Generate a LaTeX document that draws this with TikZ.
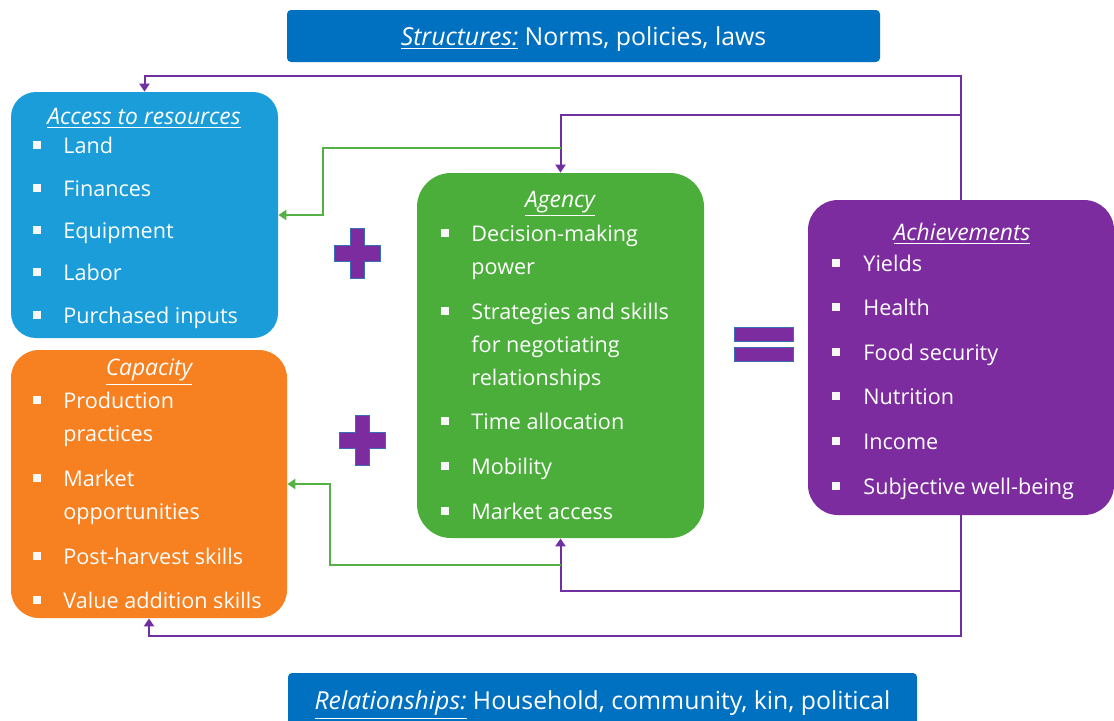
\documentclass[tikz,border=0pt]{standalone}
\usepackage{fontspec}
\setmainfont{Open Sans}
\usetikzlibrary{arrows.meta}
\definecolor{bannerblue}{HTML}{0070C0}
\definecolor{accessblue}{HTML}{1B9DD9}
\definecolor{capaorange}{HTML}{F78021}
\definecolor{agencygreen}{HTML}{4BAE3B}
\definecolor{achievepurple}{HTML}{7D2CA0}
\definecolor{linepurple}{HTML}{7030A0}
\definecolor{linegreen}{HTML}{55B046}
\definecolor{signedge}{HTML}{3A6FB5}
\tikzset{
  box/.style={rectangle, inner sep=0pt},
  banner/.style={box, fill=bannerblue, rounded corners=2pt, text=white, text depth=0pt, font=\fontsize{12.4}{14}\selectfont},
  head/.style={text=white, font=\fontsize{11.4}{13}\selectfont\itshape, inner sep=0pt, yshift=-1.5pt},
  item/.style={anchor=mid west, text=white, font=\fontsize{10.8}{13}\selectfont, inner sep=0pt, yshift=-1.5pt},
  dot/.style={fill=white!94!gray, minimum size=3.8pt, inner sep=0pt},
  plink/.style={linepurple, line width=1pt},
  glink/.style={linegreen, line width=1pt},
  tip/.style={-{Triangle[length=4pt,width=5pt]}},
  sign/.style={fill=achievepurple, draw=signedge, line width=.5pt},
}

\begin{document}
\begin{tikzpicture}[x=0.5pt,y=-0.5pt]
\useasboundingbox[fill=white] (0,0) rectangle (1114,720);

\node[banner, minimum width=296.5pt, minimum height=26pt] (structures) at (583.5,36) {\underline{\itshape Structures:} Norms, policies, laws};
\node[banner, minimum width=314.5pt, minimum height=27pt] (relations) at (602.5,700) {\underline{\itshape Relationships:} Household, community, kin, political};

\node[box, fill=accessblue, rounded corners=12.5pt, minimum width=133.5pt, minimum height=123pt] (access) at (144.5,215) {};
\node[box, fill=capaorange, rounded corners=14pt, minimum width=138pt, minimum height=134pt] (capacity) at (149,484) {};
\node[box, fill=agencygreen, rounded corners=17pt, minimum width=143.5pt, minimum height=182.5pt] (agency) at (560.5,355.5) {};
\node[box, fill=achievepurple, rounded corners=15pt, minimum width=153pt, minimum height=157.5pt] (achieve) at (961,357.5) {};

\node[head] (accesst) at (144,115) {\underline{Access to resources}};
\foreach \y/\t [count=\i] in {145/Land,188/Finances,230/Equipment,272/Labor,315/Purchased inputs}{
  \node[item] (accl\i) at (63,\y) {\t};
  \node[dot] (accb\i) at (37,\y) {};
}

\node[head] (capat) at (149,369) {\underline{Capacity}};
\foreach \y/\t [count=\i] in {400/Production,433/practices,478/Market,511/opportunities,556/Post-harvest skills,600/Value addition skills}
  \node[item] (capl\i) at (63,\y) {\t};
\foreach \y [count=\i] in {400,478,556,600}
  \node[dot] (capb\i) at (37,\y) {};

\node[head] (agencyt) at (560,201) {\underline{Agency}};
\foreach \y/\t [count=\i] in {233/Decision-making,266/power,311/Strategies and skills,344/for negotiating,377/relationships,421/Time allocation,466/Mobility,511/Market access}
  \node[item] (agl\i) at (471,\y) {\t};
\foreach \y [count=\i] in {233,311,421,466,511}
  \node[dot] (agb\i) at (445,\y) {};

\node[head] (achievet) at (962,231) {\underline{Achievements}};
\foreach \y/\t [count=\i] in {263/Yields,307/Health,352/Food security,396/Nutrition,441/Income,486/Subjective well-being}{
  \node[item] (achl\i) at (863,\y) {\t};
  \node[dot] (achb\i) at (836,\y) {};
}

\foreach \cx/\cy in {357.5/253.5,362/440}
  \filldraw[sign] (\cx,\cy) ++(-7,-25) -- ++(14,0) -- ++(0,17) -- ++(16,0) -- ++(0,16) -- ++(-16,0)
    -- ++(0,17) -- ++(-14,0) -- ++(0,-17) -- ++(-16,0) -- ++(0,-16) -- ++(16,0) -- cycle;
\filldraw[sign] (734,327) rectangle (793,341);
\filldraw[sign] (734,347) rectangle (793,361);

\coordinate (gtop) at (agency.north |- 0,148);
\coordinate (gbot) at (agency.south |- 0,565);
\draw[plink, tip] (achieve.north) -- (achieve.north |- 0,76) -| (access.north);
\draw[plink, tip] (achieve.north |- 0,115) -| (agency.north);
\draw[glink, tip] (gtop) -- (323,148) |- (access.east);
\draw[plink, tip] (achieve.south) -- (achieve.south |- 0,636) -| (capacity.south);
\draw[plink, tip] (achieve.south |- 0,591) -| (agency.south);
\draw[glink, tip] (gbot) -- (330,565) |- (capacity.east);
\end{tikzpicture}
\end{document}
